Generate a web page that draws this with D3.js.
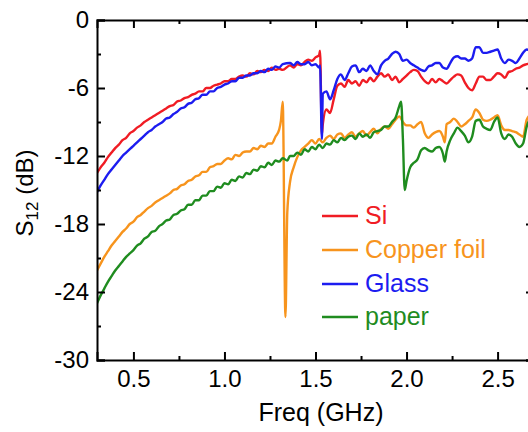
<!DOCTYPE html>
<html>
<head>
<meta charset="utf-8">
<script src="https://cdn.jsdelivr.net/npm/d3@7"></script>
<style>
  html, body { margin: 0; padding: 0; background: #fff; }
  svg { display: block; overflow: hidden; }
  text { font-family: "Liberation Sans", Arial, sans-serif; }
</style>
</head>
<body>
<script>
// ---------- data ----------
const freq = [
  0.30,0.32,0.34,0.36,0.38,0.40,0.42,0.44,0.46,0.48,
  0.50,0.52,0.54,0.56,0.58,0.60,0.62,0.64,0.66,0.68,
  0.70,0.72,0.74,0.76,0.78,0.80,0.82,0.84,0.86,0.88,
  0.90,0.92,0.94,0.96,0.98,1.00,1.02,1.04,1.06,1.08,
  1.10,1.12,1.14,1.16,1.18,1.20,1.22,1.24,1.26,1.28,
  1.30,1.31,1.32,1.335,1.345,1.36,1.38,1.40,1.42,1.44,
  1.46,1.48,1.50,1.52,1.525,1.535,1.54,1.56,1.58,1.60,
  1.62,1.64,1.66,1.68,1.70,1.72,1.74,1.76,1.78,1.80,
  1.82,1.84,1.86,1.88,1.90,1.92,1.94,1.96,1.97,1.98,
  1.99,2.00,2.02,2.04,2.06,2.08,2.10,2.12,2.14,2.16,
  2.18,2.20,2.21,2.22,2.24,2.26,2.28,2.30,2.32,2.34,
  2.36,2.38,2.40,2.42,2.44,2.46,2.48,2.50,2.52,2.54,
  2.56,2.58,2.60,2.62,2.64,2.66,2.68,2.70
];

const si = [
  -13.5,-13.0,-12.6,-12.1,-11.7,-11.3,-11.0,-10.6,-10.4,-10.0,
  -9.8,-9.5,-9.3,-9.0,-8.8,-8.6,-8.4,-8.2,-8.0,-7.8,
  -7.6,-7.5,-7.2,-7.1,-6.9,-6.8,-6.6,-6.5,-6.3,-6.3,
  -6.0,-6.0,-5.8,-5.7,-5.6,-5.4,-5.4,-5.2,-5.2,-5.0,
  -4.9,-5.0,-4.7,-4.8,-4.5,-4.6,-4.4,-4.5,-4.2,-4.4,
  -4.3,null,-4.4,null,null,-4.0,-4.2,-3.9,-4.0,-3.7,
  -3.5,-3.6,-3.3,-3.1,-2.7,-10.1,-9.2,-7.9,-8.2,-7.0,
  -5.8,-5.6,-5.9,-5.3,-5.6,-5.4,-5.8,-5.3,-5.5,-5.1,
  -5.4,-5.0,-4.7,-5.0,-4.8,-5.3,-5.0,-5.5,null,-5.2,
  null,-4.9,-4.6,-4.4,-4.5,-5.0,-5.4,-5.6,-5.2,-5.5,
  -5.2,-5.4,null,-5.6,-5.3,-5.0,-4.8,-4.9,-5.5,-6.0,
  -6.2,-5.6,-5.0,-5.0,-5.3,-5.3,-5.0,-4.7,-4.8,-5.1,
  -4.6,-4.5,-4.3,-4.2,-4.0,-3.9,-3.8,-3.6
];

const copperFoil = [
  -22.1,-21.5,-20.9,-20.4,-19.9,-19.5,-19.1,-18.7,-18.4,-18.0,
  -17.8,-17.4,-17.2,-16.9,-16.6,-16.4,-16.1,-15.9,-15.7,-15.5,
  -15.3,-15.0,-14.9,-14.6,-14.5,-14.2,-14.1,-13.8,-13.7,-13.4,
  -13.4,-13.0,-12.9,-12.7,-12.7,-12.4,-12.2,-12.3,-11.9,-12.0,
  -11.7,-11.6,-11.6,-11.3,-11.4,-11.1,-11.2,-10.9,-10.9,-10.3,
  -9.7,-8.9,-7.2,-26.2,-17.0,-14.3,-13.0,-12.1,-11.5,-11.2,
  -10.9,-10.6,-10.9,-10.5,null,null,-10.8,-10.4,-10.2,-10.5,
  -10.1,-10.0,-10.4,-10.1,-9.9,-10.3,-10.0,-9.8,-10.2,-9.9,
  -9.6,-10.0,-9.6,-9.4,-9.6,-9.2,-8.8,-8.5,null,-9.0,
  -9.2,-9.3,-9.3,-9.5,-9.2,-9.0,-10.0,-10.4,-10.1,-9.9,
  -9.8,-10.3,-10.8,-9.2,-9.0,-8.7,-9.0,-9.4,-9.2,-8.9,
  -8.6,-7.9,-8.2,-8.8,-8.9,-8.8,-8.6,-8.4,-9.3,-9.7,
  -9.7,-9.8,-9.9,-10.1,-10.3,-8.8,-8.4,-8.5
];

const glass = [
  -15.2,-14.6,-14.1,-13.6,-13.2,-12.8,-12.4,-12.0,-11.7,-11.4,
  -11.1,-10.8,-10.5,-10.2,-9.9,-9.7,-9.4,-9.2,-9.0,-8.7,
  -8.6,-8.3,-8.1,-7.8,-7.7,-7.4,-7.3,-7.0,-6.9,-6.6,
  -6.6,-6.3,-6.3,-6.0,-5.9,-5.7,-5.6,-5.4,-5.4,-5.1,
  -5.1,-4.9,-4.9,-4.7,-4.7,-4.5,-4.6,-4.3,-4.4,-4.1,
  -4.2,null,-3.9,null,null,-3.8,-4.0,-3.7,-3.9,-3.9,
  -3.7,-4.0,-3.9,-4.2,-4.0,-10.5,-6.5,-6.3,-7.0,-6.2,
  -5.2,-4.8,-5.3,-4.7,-4.1,-4.0,-4.6,-4.3,-4.5,-4.0,
  -4.5,-4.8,-4.0,-3.6,-3.4,-3.0,-2.8,-3.0,null,-3.6,
  null,-3.5,-3.8,-4.0,-4.2,-4.4,-4.5,-4.1,-4.0,-3.8,
  -3.8,-4.2,null,-4.3,-3.8,-3.3,-3.2,-3.4,-3.4,-3.6,
  -3.4,-2.4,-2.4,-2.9,-2.9,-2.8,-2.7,-2.6,-3.4,-3.8,
  -3.5,-3.6,-3.8,-3.4,-2.9,-2.6,-2.7,-2.6
];

const paper = [
  -25.0,-24.3,-23.7,-23.1,-22.6,-22.1,-21.7,-21.3,-20.9,-20.6,
  -20.3,-19.9,-19.7,-19.3,-19.1,-18.7,-18.6,-18.2,-18.0,-17.7,
  -17.6,-17.2,-17.1,-16.8,-16.7,-16.3,-16.3,-15.9,-15.9,-15.5,
  -15.5,-15.1,-15.1,-14.7,-14.8,-14.4,-14.5,-14.1,-14.2,-13.8,
  -13.9,-13.5,-13.6,-13.2,-13.3,-12.9,-13.0,-12.6,-12.8,-12.4,
  -12.5,null,-12.2,null,-12.4,-12.0,-12.0,-11.7,-11.9,-11.4,
  -11.6,-11.2,-11.4,-11.0,null,null,-11.3,-10.9,-11.0,-10.6,
  -10.8,-10.4,-10.6,-10.3,-10.2,-10.5,-10.0,-10.3,-10.1,-10.4,
  -9.9,-9.8,-9.7,-9.4,-9.4,-9.0,-8.6,-7.6,-7.2,-10.5,
  -15.0,-14.2,-13.0,-12.6,-12.3,-11.5,-11.3,-11.5,-11.6,-11.3,
  -11.2,-11.8,-12.5,-11.6,-10.6,-10.0,-9.5,-9.8,-10.2,-10.8,
  -10.3,-8.9,-8.8,-9.4,-9.6,-9.7,-9.0,-8.6,-10.0,-10.5,
  -10.1,-10.3,-10.9,-11.2,-10.9,-9.4,-8.8,-8.9
];

const seriesNames = ["Si", "Copper foil", "Glass", "paper"];
const seriesColors = ["#f01c24", "#f7941d", "#1c1cf0", "#1f8c1f"];
const seriesValues = [si, copperFoil, glass, paper];

const yTicks = [-30, -24, -18, -12, -6, 0];
const yTickLabels = ["-30", "-24", "-18", "-12", "-6", "0"];
const yMinor = [-27, -21, -15, -9, -3];
const xTicks = [0.5, 1.0, 1.5, 2.0, 2.5];
const xTickLabels = ["0.5", "1.0", "1.5", "2.0", "2.5"];
const xMinor = [0.75, 1.25, 1.75, 2.25];

// ---------- drawing ----------
const W = 528, H = 432;
const mLeft = 97, mRight = 534, mTop = 20, mBottom = 360;

const svg = d3.select("body").append("svg").attr("width", W).attr("height", H);

const x = d3.scaleLinear().domain([0.3, 2.7]).range([mLeft, mRight]);
const y = d3.scaleLinear().domain([-30, 0]).range([mBottom, mTop]);

svg.append("clipPath").attr("id", "plotclip")
  .append("rect").attr("x", mLeft).attr("y", mTop)
  .attr("width", mRight - mLeft).attr("height", mBottom - mTop);

const line = d3.line()
  .curve(d3.curveMonotoneX)
  .x(d => x(d[0]))
  .y(d => y(d[1]));

const plot = svg.append("g").attr("clip-path", "url(#plotclip)");
seriesValues.forEach((vals, i) => {
  const pts = freq.map((f, j) => [f, vals[j]]).filter(d => d[1] !== null);
  plot.append("path")
    .datum(pts)
    .attr("fill", "none")
    .attr("stroke", seriesColors[i])
    .attr("stroke-width", 2.4)
    .attr("stroke-linejoin", "round")
    .attr("d", line);
});

// axes
const fontSize = 24;
function styleAxis(g) {
  g.selectAll(".domain").attr("stroke", "#000").attr("stroke-width", 2);
  g.selectAll(".tick line").attr("stroke", "#000").attr("stroke-width", 2);
  g.selectAll(".tick text").attr("fill", "#000").style("font-size", fontSize + "px")
    .style("font-family", '"Liberation Sans", Arial, sans-serif');
}

// left
const gl = svg.append("g").attr("transform", `translate(${mLeft},0)`)
  .call(d3.axisLeft(y).tickValues(yTicks).tickSize(-8).tickPadding(8)
    .tickFormat((d, i) => yTickLabels[i]));
styleAxis(gl);
const glm = svg.append("g").attr("transform", `translate(${mLeft},0)`)
  .call(d3.axisLeft(y).tickValues(yMinor).tickSize(-4).tickFormat(""));
glm.select(".domain").remove();
styleAxis(glm);

// right
const gr = svg.append("g").attr("transform", `translate(${mRight},0)`)
  .call(d3.axisRight(y).tickValues(yTicks).tickSize(-8).tickFormat(""));
styleAxis(gr);

// bottom
const gb = svg.append("g").attr("transform", `translate(0,${mBottom})`)
  .call(d3.axisBottom(x).tickValues(xTicks).tickSize(-8).tickPadding(10)
    .tickFormat((d, i) => xTickLabels[i]));
styleAxis(gb);
const gbm = svg.append("g").attr("transform", `translate(0,${mBottom})`)
  .call(d3.axisBottom(x).tickValues(xMinor).tickSize(-4).tickFormat(""));
gbm.select(".domain").remove();
styleAxis(gbm);

// top
const gt = svg.append("g").attr("transform", `translate(0,${mTop})`)
  .call(d3.axisTop(x).tickValues(xTicks).tickSize(-8).tickFormat(""));
styleAxis(gt);
const gtm = svg.append("g").attr("transform", `translate(0,${mTop})`)
  .call(d3.axisTop(x).tickValues(xMinor).tickSize(-4).tickFormat(""));
gtm.select(".domain").remove();
styleAxis(gtm);

// axis titles
svg.append("text")
  .attr("x", 321).attr("y", 421)
  .attr("text-anchor", "middle")
  .style("font-size", "25px")
  .text("Freq (GHz)");

const yt = svg.append("text")
  .attr("transform", "translate(33,193) rotate(-90)")
  .attr("text-anchor", "middle")
  .style("font-size", "24px");
yt.append("tspan").text("S");
yt.append("tspan").attr("dy", 5).style("font-size", "17px").text("12");
yt.append("tspan").attr("dy", -5).text(" (dB)");

// legend
const legY = [216, 250, 284, 317];
const leg = svg.append("g");
seriesNames.forEach((name, i) => {
  leg.append("line")
    .attr("x1", 322).attr("x2", 358)
    .attr("y1", legY[i]).attr("y2", legY[i])
    .attr("stroke", seriesColors[i]).attr("stroke-width", 2.4);
  leg.append("text")
    .attr("x", 365).attr("y", legY[i] + 8)
    .attr("fill", seriesColors[i])
    .style("font-size", "25px")
    .text(name);
});
</script>
</body>
</html>
